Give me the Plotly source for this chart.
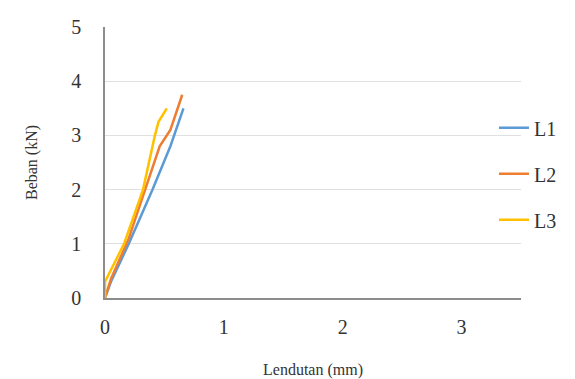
import plotly.graph_objects as go

l1_x = [0, 0.05, 0.2, 0.4, 0.55, 0.66]
l1_y = [0, 0.3, 1.0, 2.0, 2.8, 3.5]
l2_x = [0, 0.05, 0.2, 0.35, 0.46, 0.55, 0.65]
l2_y = [0, 0.35, 1.1, 2.1, 2.8, 3.1, 3.75]
l3_x = [0, 0.0, 0.16, 0.32, 0.42, 0.45, 0.52]
l3_y = [0, 0.3, 1.0, 2.0, 3.0, 3.25, 3.5]
names = ["L1", "L2", "L3"]
colors = ["#5B9BD5", "#ED7D31", "#FFC000"]

fig = go.Figure()
for i, (x, y) in enumerate([(l1_x, l1_y), (l2_x, l2_y), (l3_x, l3_y)]):
    fig.add_trace(go.Scatter(x=x, y=y, mode="lines", name=names[i],
                             legendgroup=names[i],
                             line=dict(color=colors[i], width=2.5)))

font = "Liberation Serif"
fig.update_layout(
    width=575, height=379,
    margin=dict(l=105, r=54, t=27, b=81),
    paper_bgcolor="white", plot_bgcolor="white",
    font=dict(family=font, color="#333333"),
    legend=dict(x=0.935, y=0.70, xanchor="left", yanchor="top",
                font=dict(size=20, family=font, color="#333333"),
                tracegroupgap=17, bgcolor="rgba(255,255,255,0)",
                itemwidth=30),
    xaxis=dict(range=[0, 3.5], tickvals=[0, 1, 2, 3], showgrid=False,
               showline=True, linecolor="#8c8c8c", linewidth=1.5,
               zeroline=False, ticks="", tickfont=dict(size=20, family=font),
               ticklabelstandoff=10, automargin=False,
               title=dict(text="Lendutan (mm)", font=dict(size=16, family=font),
                          standoff=30)),
    yaxis=dict(range=[0, 5], tickvals=[0, 1, 2, 3, 4, 5], showgrid=True,
               gridcolor="#e0e0e0", gridwidth=1,
               showline=True, linecolor="#8c8c8c", linewidth=1.5,
               zeroline=False, ticks="", tickfont=dict(size=20, family=font),
               ticklabelstandoff=18, automargin=False,
               title=dict(text="Beban (kN)", font=dict(size=16, family=font),
                          standoff=30)),
)
fig.write_html("out.html")
